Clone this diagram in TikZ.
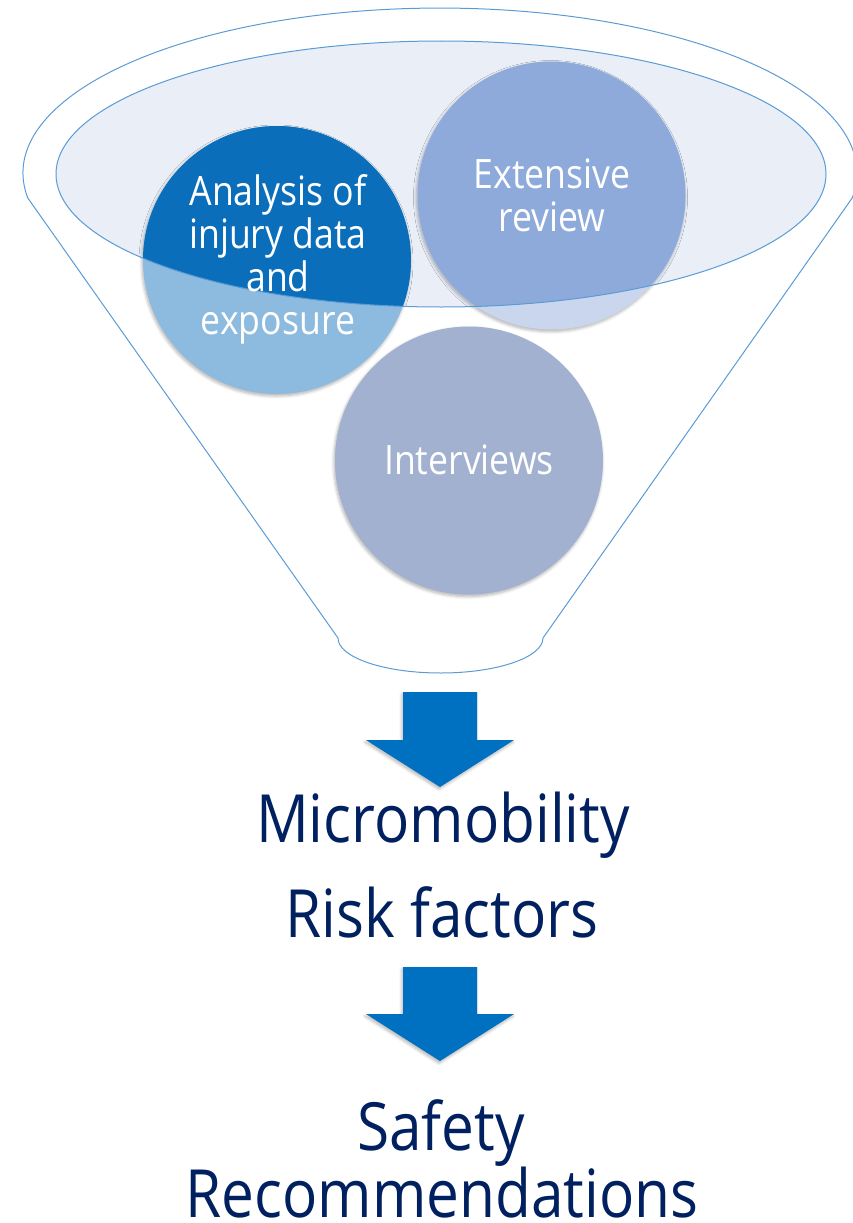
\documentclass[tikz,border=0pt]{standalone}
\usepackage{fontspec}
\setmainfont{Open Sans}[FakeStretch=0.88]
\usetikzlibrary{shadows.blur}
\definecolor{funnelline}{HTML}{5B9BD5}
\definecolor{ellfill}{HTML}{E9EEF7}
\definecolor{anadark}{HTML}{0A6EBB}
\definecolor{analight}{HTML}{8DBBDF}
\definecolor{extdark}{HTML}{8EAADB}
\definecolor{extlight}{HTML}{C9D6EE}
\definecolor{intc}{HTML}{A1B1CF}
\definecolor{arrowc}{HTML}{0070C0}
\definecolor{navyc}{HTML}{002060}
\begin{document}
\begin{tikzpicture}[x=1pt,y=-1pt,
  softshadow/.style={blur shadow={shadow xshift=-1pt, shadow yshift=-2pt, shadow blur steps=6, shadow opacity=30, shadow blur radius=3pt}},
  circ/.style={circle, minimum size=268pt, inner sep=0pt, softshadow},
  ctext/.style={text=white, align=center, inner sep=0pt, font=\fontsize{40.5}{43}\selectfont},
  btext/.style={text=navyc, align=center, inner sep=0pt, font=\fontsize{66.5}{71}\selectfont},
  barrow/.style={fill=arrowc, softshadow},
  funnel/.style={draw=funnelline, line width=1pt}
]
\path[use as bounding box] (0,0) rectangle (853,1223);
\clip (0,0) rectangle (853,1223);

% funnel outline
\draw[funnel] (27.8,198) arc[start angle=171.3, end angle=368.7, x radius=417, y radius=165]
  -- (543,638) arc[start angle=0, end angle=180, x radius=102.5, y radius=35] -- cycle;

% inner ellipse fill
\fill[ellfill] (441,174) ellipse [x radius=385, y radius=133];

% circles
\node[circ, fill=analight] (ana) at (277,260) {};
\node[circ, fill=extlight] (ext) at (551.5,195.5) {};
\node[circ, fill=intc] (int) at (469,460.5) {};

\begin{scope}
  \clip (441,174) ellipse [x radius=385, y radius=133];
  \fill[anadark] (ana.center) circle (134);
  \fill[extdark] (ext.center) circle (134);
\end{scope}

% inner ellipse outline
\draw[funnel] (441,174) ellipse [x radius=385, y radius=133];

% circle texts
\node[ctext] (anat) at (278,259) {Analysis of\\injury data\\and\\exposure};
\node[ctext] (extt) at (552,195) {Extensive\\review};
\node[ctext] (intt) at (469,460) {Interviews};

% arrows
\fill[barrow] (403,692) -- (477,692) -- (477,740) -- (514,740) -- (440,787) -- (366,740) -- (403,740) -- cycle;
\fill[barrow] (403,967) -- (477,967) -- (477,1014) -- (514,1014) -- (440,1061) -- (366,1014) -- (403,1014) -- cycle;

% bottom texts
\node[btext, anchor=base] (micro) at (443,842) {Micromobility};
\node[btext, anchor=base] (risk) at (442,937) {Risk factors};
\node[btext, anchor=base] (safety) at (441,1150) {Safety};
\node[btext, anchor=base] (recom) at (442,1217) {Recommendations};
\end{tikzpicture}
\end{document}
